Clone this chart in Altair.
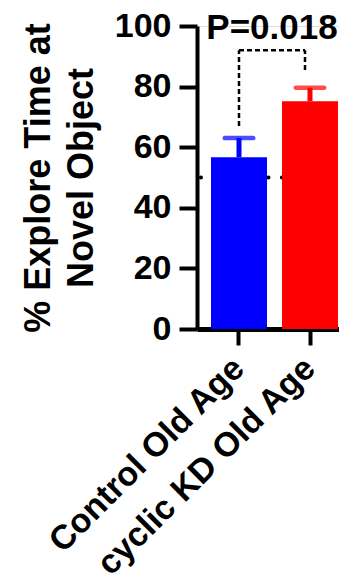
import altair as alt
import pandas as pd

groups = ["Control Old Age", "cyclic KD Old Age"]
means = [56.7, 75.2]
sems = [6.3, 4.4]
colors = ["#0000FF", "#FF0000"]
chance_level = [50]
y_ticks = [0, 20, 40, 60, 80, 100]
p_text = ["P=0.018"]
bracket_top = [92]
bracket_left_bottom = [67]
bracket_right_bottom = [85.5]

FONT = "Liberation Sans"

df = pd.DataFrame({
    "group": groups,
    "mean": means,
    "upper": [m + s for m, s in zip(means, sems)],
    "color": colors,
})

xscale = alt.Scale(domain=groups, paddingInner=0.211, paddingOuter=0.197, range=[0, 155])
yscale = alt.Scale(domain=[0, 100])

xenc = alt.X(
    "group:N", scale=xscale, sort=groups,
    axis=alt.Axis(
        title=None, labelAngle=-45, labelFont=FONT, labelFontSize=34,
        labelFontWeight="bold", labelColor="black", labelPadding=18,
        labelBaseline="middle", labelAlign="right",
        labelLimit=0,
        tickSize=16, tickWidth=4, tickColor="black",
        domainWidth=5, domainColor="black",
    ),
)
yenc = alt.Y(
    "mean:Q", scale=yscale,
    axis=alt.Axis(
        title=["% Explore Time at", "Novel Object"], values=y_ticks,
        titleFont=FONT, titleFontSize=36, titleFontWeight="bold",
        titleColor="black", titleLineHeight=43, titlePadding=14,
        labelFont=FONT, labelFontSize=34, labelFontWeight="bold",
        labelColor="black", labelPadding=8,
        tickSize=18, tickWidth=4, tickColor="black",
        domainWidth=4, domainColor="black", grid=False,
    ),
)

base = alt.Chart(df)

chance = alt.Chart(pd.DataFrame({"y": chance_level})).mark_rule(
    color="black", strokeWidth=4, strokeDash=[0.1, 13.4], strokeCap="round",
    strokeDashOffset=-3,
).encode(y=alt.Y("y:Q", scale=yscale))

bars = base.mark_bar().encode(
    x=xenc, y=yenc,
    color=alt.Color("color:N", scale=None),
)

err = base.mark_rule(strokeWidth=5).encode(
    x=alt.X("group:N", scale=xscale, sort=groups),
    y=alt.Y("mean:Q", scale=yscale),
    y2="upper:Q",
    color=alt.Color("color:N", scale=None),
)

caps = base.mark_tick(size=33, thickness=4.5, cornerRadius=2.2).encode(
    x=alt.X("group:N", scale=xscale, sort=groups),
    y=alt.Y("upper:Q", scale=yscale),
    color=alt.Color("color:N", scale=None),
)

br_style = dict(color="black", strokeWidth=2.5, strokeDash=[5, 3])

left_v = alt.Chart(pd.DataFrame({
    "g": [groups[0]], "y": bracket_left_bottom, "y2": bracket_top,
})).mark_rule(**br_style).encode(
    x=alt.X("g:N", scale=xscale, sort=groups),
    y=alt.Y("y:Q", scale=yscale), y2="y2:Q",
)

right_v = alt.Chart(pd.DataFrame({
    "g": [groups[1]], "y": bracket_right_bottom, "y2": bracket_top,
})).mark_rule(xOffset=-5, **br_style).encode(
    x=alt.X("g:N", scale=xscale, sort=groups),
    y=alt.Y("y:Q", scale=yscale), y2="y2:Q",
)

horiz = alt.Chart(pd.DataFrame({
    "g": [groups[0]], "g2": [groups[1]], "y": bracket_top,
})).mark_rule(x2Offset=-5, **br_style).encode(
    x=alt.X("g:N", scale=xscale, sort=groups),
    x2="g2:N",
    y=alt.Y("y:Q", scale=yscale),
)

ptext = alt.Chart(pd.DataFrame({
    "g": [groups[0]], "t": p_text, "y": [95.6],
})).mark_text(
    font=FONT, fontSize=35, fontWeight="bold", color="black",
    baseline="alphabetic", align="center", xOffset=33,
).encode(
    x=alt.X("g:N", scale=xscale, sort=groups),
    y=alt.Y("y:Q", scale=yscale),
    text="t:N",
)

chart = alt.layer(
    chance, bars, err, caps, left_v, right_v, horiz, ptext
).properties(
    width=142, height=303,
    autosize=alt.AutoSizeParams(type="none"),
    padding={"left": 189, "top": 18, "right": 0, "bottom": 251},
).configure_view(stroke=None).configure(background="white")

chart.save("out.html", embed_options={"renderer": "svg", "actions": False})
